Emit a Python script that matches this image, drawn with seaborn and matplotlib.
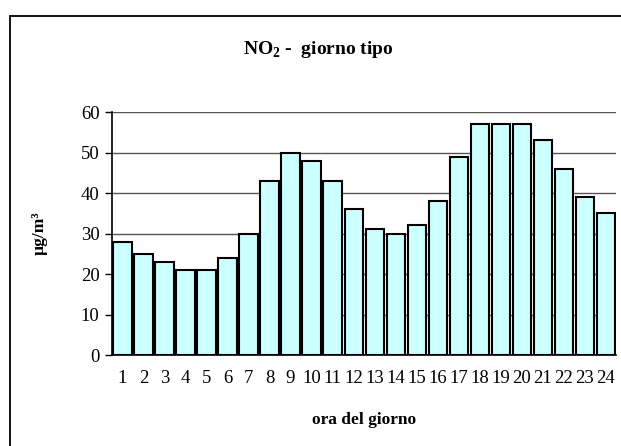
import numpy as np
import pandas as pd
import matplotlib
matplotlib.use("Agg")
import matplotlib.pyplot as plt
import seaborn as sns
from matplotlib.patches import Rectangle

# ore del giorno e concentrazione media NO2 (ug/m3)
ore = [str(h) for h in range(1, 25)]
no2 = [28, 25, 23, 21, 21, 24, 30, 43, 50, 48, 43, 36,
       31, 30, 32, 38, 49, 57, 57, 57, 53, 46, 39, 35]
y_ticks = [0, 10, 20, 30, 40, 50, 60]

df = pd.DataFrame({"ora": ore, "no2": no2})

sns.set_style("white")
plt.rcParams["font.family"] = ["Liberation Serif", "DejaVu Serif"]
plt.rcParams["mathtext.fontset"] = "custom"
plt.rcParams["mathtext.rm"] = "Liberation Serif"
plt.rcParams["mathtext.bf"] = "Liberation Serif:bold"
plt.rcParams["text.color"] = "black"
plt.rcParams["axes.labelcolor"] = "black"
plt.rcParams["xtick.color"] = "black"
plt.rcParams["ytick.color"] = "black"

fig = plt.figure(figsize=(6.21, 4.46), dpi=100)
ax = fig.add_axes([0.1804, 0.2040, 0.8116, 0.5448])

sns.barplot(data=df, x="ora", y="no2", color="#CCFFFF", edgecolor="black",
            linewidth=1.5, width=0.86, saturation=1, ax=ax)

ax.set_ylim(0, 60)
ax.set_xlim(-0.5, 23.5)
ax.set_yticks(y_ticks)
ax.set_yticklabels([str(v) for v in y_ticks], fontsize=13.5)
ax.yaxis.grid(True, color="#555555", linewidth=1)
ax.set_axisbelow(True)

# tick di categoria ai bordi, etichette al centro
ax.set_xticks(np.arange(-0.5, 24, 1))
ax.set_xticklabels([])
ax.set_xticks(np.arange(24), minor=True)
ax.set_xticklabels(ore, minor=True, fontsize=13.5)
ax.tick_params(axis="x", which="major", direction="out", length=5, width=1)
ax.tick_params(axis="x", which="minor", length=0, pad=11)
ax.tick_params(axis="y", direction="out", length=5, width=1, pad=4, left=True)

for s in ["top", "right"]:
    ax.spines[s].set_visible(False)
for s in ["left", "bottom"]:
    ax.spines[s].set_color("black")
    ax.spines[s].set_linewidth(1.2)

ax.set_xlabel("ora del giorno", fontsize=12.5, fontweight="bold", labelpad=18)
ax.set_ylabel("µg/m³", fontsize=12.5, fontweight="bold", labelpad=24)

fig.text(0.512, 0.888, r"$\mathbf{NO}_{\mathbf{2}}$ -  giorno tipo", fontsize=14,
         fontweight="bold", ha="center", va="center")

# cornice esterna del grafico (tagliata a destra e in basso)
fig.patches.append(Rectangle((10 / 621, -0.1), 1.2, 1.1 - 16 / 446,
                             transform=fig.transFigure, fill=False,
                             edgecolor="black", linewidth=1.3))

fig.savefig("out.png", dpi=100)
